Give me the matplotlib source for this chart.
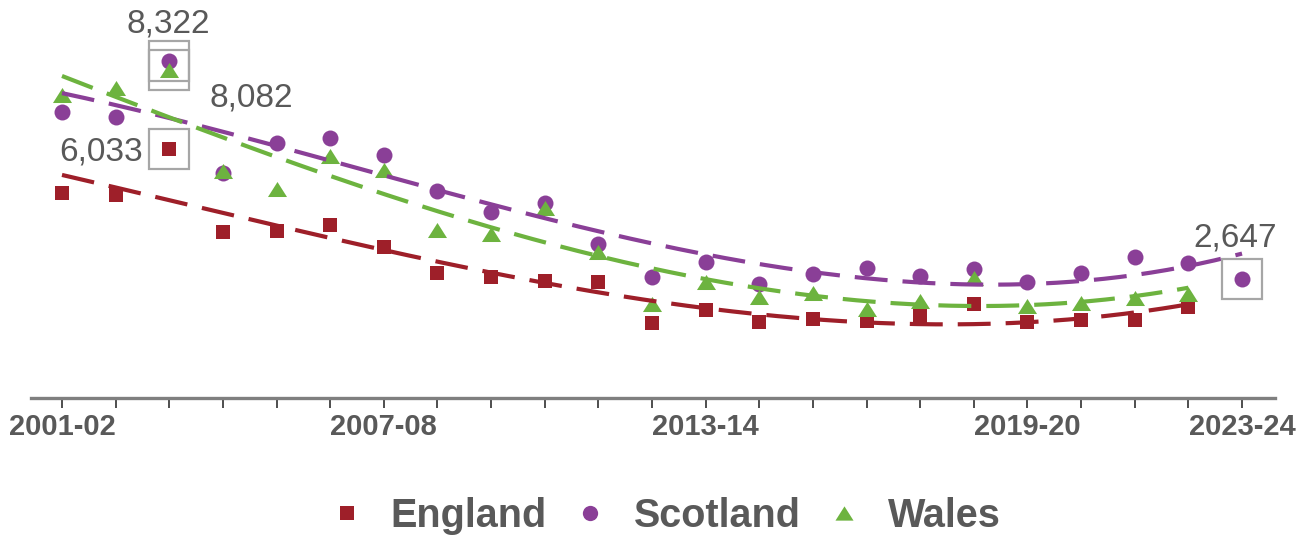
import numpy as np
import matplotlib
matplotlib.use("Agg")
import matplotlib.pyplot as plt
from matplotlib import font_manager
from matplotlib.lines import Line2D

# Financial years
years = ["2001-02", "2002-03", "2003-04", "2004-05", "2005-06", "2006-07",
         "2007-08", "2008-09", "2009-10", "2010-11", "2011-12", "2012-13",
         "2013-14", "2014-15", "2015-16", "2016-17", "2017-18", "2018-19",
         "2019-20", "2020-21", "2021-22", "2022-23", "2023-24"]

england = [4886, 4834, 6033, 3871, 3897, 4053, 3480, 2804, 2700, 2595, 2569,
           1502, 1841, 1528, 1606, 1554, 1684, 1997, 1528, 1580, 1580, 1919]
scotland = [6994, 6864, 8322, 5407, 6188, 6318, 5875, 4938, 4391, 4626, 3559,
            2700, 3090, 2530, 2778, 2934, 2726, 2908, 2569, 2804, 3220, 3064,
            2647]
wales = [7450, 7632, 8082, 5472, 4990, 5862, 5485, 3936, 3827, 4483, 3358,
         1997, 2575, 2179, 2296, 1854, 2075, 2673, 1945, 2023, 2153, 2257]

tick_labels = ["2001-02", "2007-08", "2013-14", "2019-20", "2023-24"]

# Highlighted points: (series, year, label offset in pixels, alignment)
highlights = [("Scotland", "2003-04", (-1, 37), "center"),
              ("Wales", "2003-04", (82, -28), "center"),
              ("England", "2003-04", (-26, -3), "right"),
              ("Scotland", "2023-24", (-7, 41), "center")]

colors = {"England": "#9E1F29", "Scotland": "#8A3F97", "Wales": "#6DB33F"}
series = {"England": england, "Scotland": scotland, "Wales": wales}

tri = [(-1.0, -0.79), (1.0, -0.79), (0.0, 0.79), (-1.0, -0.79)]
markers = {"England": ("s", 10), "Scotland": ("o", 11.5), "Wales": (tri, 13.7)}

TEXT_GREY = "#595959"
installed = {f.name for f in font_manager.fontManager.ttflist}
narrow = "Liberation Sans Narrow" if "Liberation Sans Narrow" in installed else "Liberation Sans"
tick_size = 25 if narrow == "Liberation Sans Narrow" else 21

W, H = 1309, 539
fig = plt.figure(figsize=(W / 100, H / 100), dpi=100)
ax = fig.add_axes([31 / W, (H - 398) / H, (1275 - 31) / W, (398 - 10) / H])

# Scatter points
for name in ["England", "Scotland", "Wales"]:
    vals = series[name]
    xs = np.arange(len(vals))
    m, ms = markers[name]
    ax.plot(xs, vals, linestyle="none", marker=m, markersize=ms,
            color=colors[name], markeredgewidth=0, clip_on=False, zorder=3)

# Polynomial trend lines
for name in ["England", "Scotland", "Wales"]:
    vals = np.array(series[name], dtype=float)
    xs = np.arange(len(vals))
    coef = np.polyfit(xs, vals, 3)
    xf = np.linspace(0, len(vals) - 1, 300)
    ax.plot(xf, np.polyval(coef, xf), color=colors[name], lw=3,
            dashes=(7.9, 3.6), dash_capstyle="butt",
            zorder=4, clip_on=False)

# Boxes and labels on highlighted points
for name, yr, (dx, dy), ha in highlights:
    i = years.index(yr)
    v = series[name][i]
    ax.plot([i], [v], marker="s", markersize=28.5, markerfacecolor="none",
            markeredgecolor="#A6A6A6", markeredgewidth=1.6, linestyle="none",
            clip_on=False, zorder=5)
    ax.annotate(f"{v:,}", (i, v), xytext=(dx, dy), textcoords="offset pixels",
                ha=ha, va="center", fontsize=24, color=TEXT_GREY,
                family="Liberation Sans", zorder=6)

ax.set_xlim(-0.578, 22.615)
ax.set_ylim(-450, 9650)
for s in ["top", "right", "left"]:
    ax.spines[s].set_visible(False)
ax.spines["bottom"].set_color("#7F7F7F")
ax.spines["bottom"].set_linewidth(2.4)
ax.set_yticks([])
ax.set_xticks(np.arange(len(years)))
ax.set_xticklabels([y if y in tick_labels else "" for y in years],
                   family=narrow, fontweight="bold", fontsize=tick_size,
                   color=TEXT_GREY)
ax.tick_params(axis="x", length=7, width=1.3, color="#404040", pad=4)
ax.patch.set_visible(False)

# Legend
handles = []
for name in ["England", "Scotland", "Wales"]:
    m, ms = markers[name]
    lsz = {"England": 10, "Scotland": 11, "Wales": 13}[name]
    handles.append(Line2D([], [], linestyle="none", marker=m, markersize=lsz,
                          color=colors[name], markeredgewidth=0, label=name))
leg = fig.legend(handles=handles, loc="center", ncol=3,
                 bbox_to_anchor=(0.507, 1 - 516 / H), frameon=False,
                 prop={"family": "Liberation Sans", "weight": "bold",
                       "size": 28.5},
                 handlelength=1.0, handletextpad=0.6, columnspacing=0.6,
                 borderpad=0)
for t in leg.get_texts():
    t.set_color(TEXT_GREY)

fig.savefig("out.png", dpi=100)
